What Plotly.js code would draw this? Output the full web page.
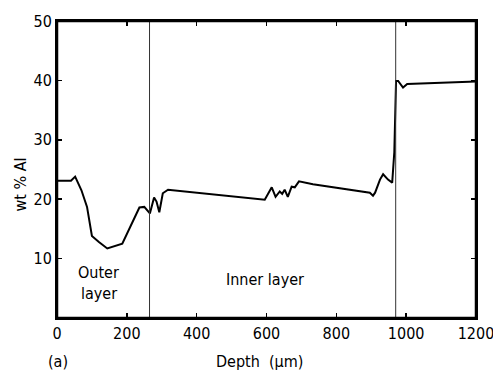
<!DOCTYPE html>
<html><head><meta charset="utf-8">
<script src="https://cdn.plot.ly/plotly-3.0.1.min.js"></script>
<style>body{margin:0;background:#fff}#c{width:493px;height:374px}</style>
</head><body><div id="c"></div>
<script>
const depth = [0, 40, 52, 70, 86, 100, 120, 144, 187, 236, 250, 266, 278, 285, 293, 303, 318, 546, 595, 615, 626, 638, 645, 652, 661, 672, 681, 693, 733, 896, 905, 911, 925, 934, 948, 960, 966, 971, 977, 991, 1003, 1200];
const alwt  = [23.1, 23.1, 23.8, 21.5, 18.7, 13.8, 12.8, 11.7, 12.5, 18.6, 18.7, 17.6, 20.3, 19.6, 17.8, 21.0, 21.6, 20.3, 19.9, 22.0, 20.4, 21.3, 20.9, 21.6, 20.4, 22.1, 22.0, 23.0, 22.5, 21.1, 20.6, 21.1, 23.3, 24.2, 23.3, 22.8, 27.9, 39.9, 39.9, 38.8, 39.4, 39.8];
const layerBounds = [265, 970];
const xTicks = [0, 200, 400, 600, 800, 1000, 1200];
const yTicks = [10, 20, 30, 40, 50];
const fontFam = '"DejaVu Sans Condensed", "Liberation Sans Narrow", sans-serif';

const shapes = layerBounds.map(b => ({type:'line', xref:'x', yref:'paper', x0:b, x1:b, y0:0, y1:1, line:{color:'#333', width:1}}));
shapes.push({type:'rect', xref:'paper', yref:'paper', x0:0, x1:1, y0:0, y1:1, line:{color:'#000', width:2.5}, layer:'above'});

Plotly.newPlot('c', [{
  x: depth, y: alwt, mode:'lines', line:{color:'#000', width:2}, hoverinfo:'none'
}], {
  width:493, height:374,
  margin:{l:57, r:17, t:21, b:56},
  paper_bgcolor:'#fff', plot_bgcolor:'#fff',
  showlegend:false,
  font:{family:fontFam, size:16, color:'#000'},
  xaxis:{range:[0,1200], tickvals:xTicks, ticktext:xTicks.map(String), ticklabeloverflow:'allow', ticks:'inside', ticklen:5, tickwidth:1.5, tickcolor:'#000', mirror:'allticks', showline:true, linecolor:'#000', linewidth:2, showgrid:false, zeroline:false},
  yaxis:{range:[0,50], tickvals:yTicks, ticks:'inside', ticklen:5, tickwidth:1.5, tickcolor:'#000', mirror:'allticks', showline:true, linecolor:'#000', linewidth:2, showgrid:false, zeroline:false},
  shapes: shapes,
  annotations:[
    {x:120, y:7.6, xref:'x', yref:'y', text:'Outer', showarrow:false, font:{size:16}},
    {x:120, y:4.2, xref:'x', yref:'y', text:'layer', showarrow:false, font:{size:16}},
    {x:595, y:6.4, xref:'x', yref:'y', text:'Inner layer', showarrow:false, font:{size:16}},
    {x:-0.088, y:0.45, xref:'paper', yref:'paper', xanchor:'center', yanchor:'middle', text:'wt % Al', textangle:-90, showarrow:false, font:{size:16}},
    {x:580, y:-0.148, xref:'x', yref:'paper', xanchor:'center', yanchor:'middle', text:'Depth  (µm)', showarrow:false, font:{size:16}},
    {x:0, y:-0.148, xref:'x', yref:'paper', xanchor:'left', yanchor:'middle', xshift:-11, text:'(a)', showarrow:false, font:{size:16}}
  ]
}, {staticPlot:true});
</script></body></html>
